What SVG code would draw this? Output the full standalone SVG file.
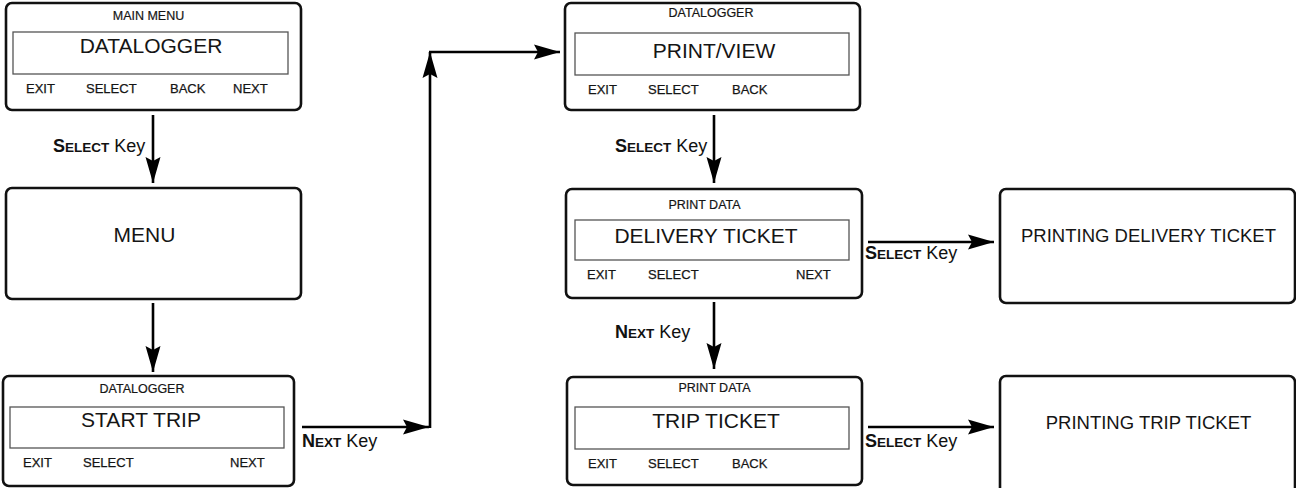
<svg xmlns="http://www.w3.org/2000/svg" width="1296" height="488" viewBox="0 0 1296 488">
<defs>
<marker id="ah" markerWidth="28" markerHeight="16" refX="26" refY="8" orient="auto" markerUnits="userSpaceOnUse">
<path d="M26,8 L0,0.5 L4,8 L0,15.5 Z" fill="#000"/>
</marker>
<style>
.box{fill:#fff;stroke:#111;stroke-width:2.6}
.inner{fill:none;stroke:#555;stroke-width:1.3}
.t{font-family:"Liberation Sans",Arial,sans-serif;fill:#151515}
.title{font-size:12.5px;text-anchor:middle;stroke:#151515;stroke-width:0.2}
.main{font-size:21px;text-anchor:middle}
.lbl{font-size:13px;stroke:#151515;stroke-width:0.25}
.big{font-size:18.5px;text-anchor:middle}
.key{font-family:"Liberation Sans",Arial,sans-serif;font-size:18px;fill:#111}
.kb{font-weight:bold}
.sc{font-size:13.5px;font-weight:bold}
.conn{fill:none;stroke:#000;stroke-width:2.6}
</style>
</defs>
<rect width="1296" height="488" fill="#fff"/>

<g id="main-menu">
<rect class="box" x="6" y="3" width="295" height="107" rx="6"/>
<rect class="inner" x="13" y="32" width="275" height="42"/>
<text class="t title" x="148.5" y="20">MAIN MENU</text>
<text class="t main" x="151" y="53">DATALOGGER</text>
<text class="t lbl" x="26" y="93">EXIT</text>
<text class="t lbl" x="86" y="93">SELECT</text>
<text class="t lbl" x="170" y="93">BACK</text>
<text class="t lbl" x="233" y="93">NEXT</text>
</g>

<g id="menu">
<rect class="box" x="6" y="188" width="295" height="111" rx="6"/>
<text class="t main" x="144.5" y="242">MENU</text>
</g>

<g id="start-trip">
<rect class="box" x="3" y="376" width="291" height="110" rx="6"/>
<rect class="inner" x="10" y="407" width="274" height="41"/>
<text class="t title" x="142" y="393">DATALOGGER</text>
<text class="t main" x="141" y="427">START TRIP</text>
<text class="t lbl" x="23" y="467">EXIT</text>
<text class="t lbl" x="83" y="467">SELECT</text>
<text class="t lbl" x="230" y="467">NEXT</text>
</g>

<g id="print-view">
<rect class="box" x="565" y="3" width="295" height="107" rx="6"/>
<rect class="inner" x="575" y="33" width="274" height="42"/>
<text class="t title" x="711" y="17">DATALOGGER</text>
<text class="t main" x="714" y="58">PRINT/VIEW</text>
<text class="t lbl" x="588" y="94">EXIT</text>
<text class="t lbl" x="648" y="94">SELECT</text>
<text class="t lbl" x="732" y="94">BACK</text>
</g>

<g id="delivery-ticket">
<rect class="box" x="566" y="189" width="296" height="109" rx="6"/>
<rect class="inner" x="575" y="220" width="274" height="40"/>
<text class="t title" x="704.5" y="209">PRINT DATA</text>
<text class="t main" x="706" y="243">DELIVERY TICKET</text>
<text class="t lbl" x="587" y="279">EXIT</text>
<text class="t lbl" x="648" y="279">SELECT</text>
<text class="t lbl" x="796" y="279">NEXT</text>
</g>

<g id="trip-ticket">
<rect class="box" x="567" y="377" width="295" height="108" rx="6"/>
<rect class="inner" x="575" y="407" width="274" height="42"/>
<text class="t title" x="714.5" y="392">PRINT DATA</text>
<text class="t main" x="716" y="428">TRIP TICKET</text>
<text class="t lbl" x="588" y="468">EXIT</text>
<text class="t lbl" x="648" y="468">SELECT</text>
<text class="t lbl" x="732" y="468">BACK</text>
</g>

<g id="printing-delivery">
<rect class="box" x="1000" y="189" width="295" height="114" rx="6"/>
<text class="t big" x="1148.5" y="242">PRINTING DELIVERY TICKET</text>
</g>

<g id="printing-trip">
<rect class="box" x="1000" y="376" width="295" height="120" rx="6"/>
<text class="t big" x="1148.5" y="429">PRINTING TRIP TICKET</text>
</g>

<g id="connectors">
<path class="conn" d="M153,115 V183" marker-end="url(#ah)"/>
<path class="conn" d="M153,303 V372" marker-end="url(#ah)"/>
<path class="conn" d="M302,427 H429" marker-end="url(#ah)"/>
<path class="conn" d="M430,428 V52" marker-end="url(#ah)"/>
<path class="conn" d="M429,52 H560" marker-end="url(#ah)"/>
<path class="conn" d="M714,115 V183" marker-end="url(#ah)"/>
<path class="conn" d="M714,302 V369" marker-end="url(#ah)"/>
<path class="conn" d="M868,242 H994" marker-end="url(#ah)"/>
<path class="conn" d="M868,427 H994" marker-end="url(#ah)"/>
</g>

<g id="labels">
<text class="key" x="53" y="152"><tspan class="kb">S</tspan><tspan class="sc">ELECT</tspan> Key</text>
<text class="key" x="302" y="447"><tspan class="kb">N</tspan><tspan class="sc">EXT</tspan> Key</text>
<text class="key" x="615" y="152"><tspan class="kb">S</tspan><tspan class="sc">ELECT</tspan> Key</text>
<text class="key" x="615" y="338"><tspan class="kb">N</tspan><tspan class="sc">EXT</tspan> Key</text>
<text class="key" x="865" y="259"><tspan class="kb">S</tspan><tspan class="sc">ELECT</tspan> Key</text>
<text class="key" x="865" y="447"><tspan class="kb">S</tspan><tspan class="sc">ELECT</tspan> Key</text>
</g>
</svg>
